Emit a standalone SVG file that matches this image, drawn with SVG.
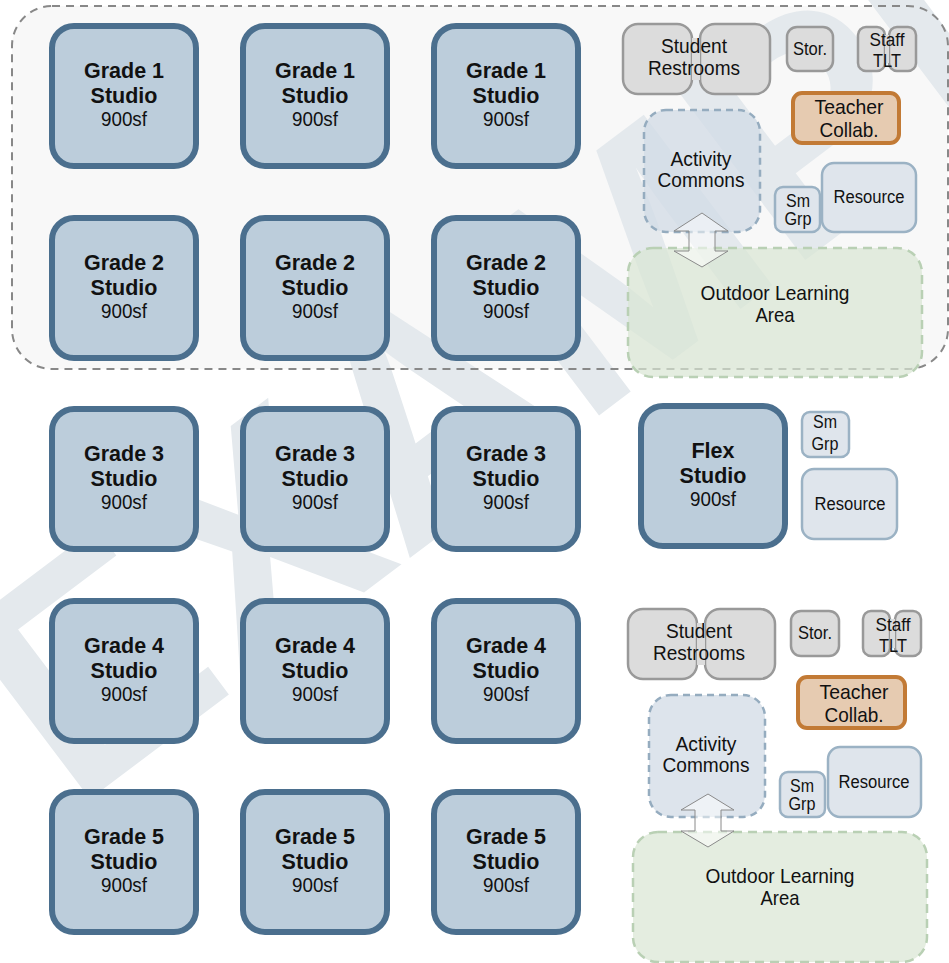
<svg xmlns="http://www.w3.org/2000/svg" width="949" height="963" viewBox="0 0 949 963">
<style>
.bg{fill:#ffffff}
.studio rect{fill:#bccddb;stroke:#4b6f8e;stroke-width:6}
.gray rect.r{fill:#dcdcdc;stroke:#999999;stroke-width:2.5}
.gray rect.f{fill:#dcdcdc;stroke:none}
.teach rect{fill:#e6cbb1;stroke:#c27a35;stroke-width:4}
.blue rect{fill:#dfe5ec;stroke:#9bb2c4;stroke-width:2.5}
.commons rect{fill:#d2dbe6;fill-opacity:0.75;stroke:#95acbf;stroke-width:2.5;stroke-dasharray:7 5}
.outdoor rect{fill:#d9e5d3;fill-opacity:0.7;stroke:#b9d0b4;stroke-width:2.5;stroke-dasharray:9 6}
.arrow{fill:#ffffff;fill-opacity:0.5;stroke:#8a8a8a;stroke-width:1}
text{font-family:"Liberation Sans",Arial,Helvetica,sans-serif;fill:#111111;text-anchor:middle}
.sb{font-size:21.5px;font-weight:bold}
.sr{font-size:21px}
.ss{font-size:17.5px}
.wm{font-size:310px;font-weight:bold;fill:#e4e9ed}
</style>
<rect class="bg" x="0" y="0" width="949" height="963"/>
<rect x="12" y="6" width="936" height="363" rx="40" fill="#f8f8f8"/>
<text class="wm" x="0" y="111" transform="translate(605,272) rotate(-37)">EXAMPLE</text>
<rect x="12" y="6" width="936" height="363" rx="40" fill="none" stroke="#888888" stroke-width="2" stroke-dasharray="8 6"/>

<g id="g1a" class="studio"><rect x="52" y="26" width="144" height="140" rx="22"/><text class="sb" x="124" y="78">Grade 1</text><text class="sb" x="124" y="103">Studio</text><text class="sr" x="124" y="126" textLength="46" lengthAdjust="spacingAndGlyphs">900sf</text></g>
<g id="g1b" class="studio"><rect x="243" y="26" width="144" height="140" rx="22"/><text class="sb" x="315" y="78">Grade 1</text><text class="sb" x="315" y="103">Studio</text><text class="sr" x="315" y="126" textLength="46" lengthAdjust="spacingAndGlyphs">900sf</text></g>
<g id="g1c" class="studio"><rect x="434" y="26" width="144" height="140" rx="22"/><text class="sb" x="506" y="78">Grade 1</text><text class="sb" x="506" y="103">Studio</text><text class="sr" x="506" y="126" textLength="46" lengthAdjust="spacingAndGlyphs">900sf</text></g>

<g id="g2a" class="studio"><rect x="52" y="218" width="144" height="140" rx="22"/><text class="sb" x="124" y="270">Grade 2</text><text class="sb" x="124" y="295">Studio</text><text class="sr" x="124" y="318" textLength="46" lengthAdjust="spacingAndGlyphs">900sf</text></g>
<g id="g2b" class="studio"><rect x="243" y="218" width="144" height="140" rx="22"/><text class="sb" x="315" y="270">Grade 2</text><text class="sb" x="315" y="295">Studio</text><text class="sr" x="315" y="318" textLength="46" lengthAdjust="spacingAndGlyphs">900sf</text></g>
<g id="g2c" class="studio"><rect x="434" y="218" width="144" height="140" rx="22"/><text class="sb" x="506" y="270">Grade 2</text><text class="sb" x="506" y="295">Studio</text><text class="sr" x="506" y="318" textLength="46" lengthAdjust="spacingAndGlyphs">900sf</text></g>

<g id="g3a" class="studio"><rect x="52" y="409" width="144" height="140" rx="22"/><text class="sb" x="124" y="461">Grade 3</text><text class="sb" x="124" y="486">Studio</text><text class="sr" x="124" y="509" textLength="46" lengthAdjust="spacingAndGlyphs">900sf</text></g>
<g id="g3b" class="studio"><rect x="243" y="409" width="144" height="140" rx="22"/><text class="sb" x="315" y="461">Grade 3</text><text class="sb" x="315" y="486">Studio</text><text class="sr" x="315" y="509" textLength="46" lengthAdjust="spacingAndGlyphs">900sf</text></g>
<g id="g3c" class="studio"><rect x="434" y="409" width="144" height="140" rx="22"/><text class="sb" x="506" y="461">Grade 3</text><text class="sb" x="506" y="486">Studio</text><text class="sr" x="506" y="509" textLength="46" lengthAdjust="spacingAndGlyphs">900sf</text></g>

<g id="g4a" class="studio"><rect x="52" y="601" width="144" height="140" rx="22"/><text class="sb" x="124" y="653">Grade 4</text><text class="sb" x="124" y="678">Studio</text><text class="sr" x="124" y="701" textLength="46" lengthAdjust="spacingAndGlyphs">900sf</text></g>
<g id="g4b" class="studio"><rect x="243" y="601" width="144" height="140" rx="22"/><text class="sb" x="315" y="653">Grade 4</text><text class="sb" x="315" y="678">Studio</text><text class="sr" x="315" y="701" textLength="46" lengthAdjust="spacingAndGlyphs">900sf</text></g>
<g id="g4c" class="studio"><rect x="434" y="601" width="144" height="140" rx="22"/><text class="sb" x="506" y="653">Grade 4</text><text class="sb" x="506" y="678">Studio</text><text class="sr" x="506" y="701" textLength="46" lengthAdjust="spacingAndGlyphs">900sf</text></g>

<g id="g5a" class="studio"><rect x="52" y="792" width="144" height="140" rx="22"/><text class="sb" x="124" y="844">Grade 5</text><text class="sb" x="124" y="869">Studio</text><text class="sr" x="124" y="892" textLength="46" lengthAdjust="spacingAndGlyphs">900sf</text></g>
<g id="g5b" class="studio"><rect x="243" y="792" width="144" height="140" rx="22"/><text class="sb" x="315" y="844">Grade 5</text><text class="sb" x="315" y="869">Studio</text><text class="sr" x="315" y="892" textLength="46" lengthAdjust="spacingAndGlyphs">900sf</text></g>
<g id="g5c" class="studio"><rect x="434" y="792" width="144" height="140" rx="22"/><text class="sb" x="506" y="844">Grade 5</text><text class="sb" x="506" y="869">Studio</text><text class="sr" x="506" y="892" textLength="46" lengthAdjust="spacingAndGlyphs">900sf</text></g>

<g id="flex" class="studio"><rect x="641" y="406" width="144" height="140" rx="22"/><text class="sb" x="713" y="458">Flex</text><text class="sb" x="713" y="483">Studio</text><text class="sr" x="713" y="506" textLength="46" lengthAdjust="spacingAndGlyphs">900sf</text></g>

<!-- top cluster -->
<g id="restrooms-top" class="gray"><rect class="r" x="623" y="24" width="69" height="70" rx="15"/><rect class="r" x="700" y="24" width="70" height="70" rx="15"/><rect class="f" x="692" y="38" width="8" height="42"/><text class="sr" x="694" y="53" textLength="66" lengthAdjust="spacingAndGlyphs">Student</text><text class="sr" x="694" y="75" textLength="92" lengthAdjust="spacingAndGlyphs">Restrooms</text></g>
<g id="stor-top" class="gray"><rect class="r" x="787" y="27" width="46" height="44" rx="10"/><text class="ss" x="810" y="55" textLength="34" lengthAdjust="spacingAndGlyphs">Stor.</text></g>
<g id="tlt-top" class="gray"><rect class="r" x="858" y="27" width="27" height="44" rx="8"/><rect class="r" x="889" y="27" width="27" height="44" rx="8"/><rect class="f" x="885" y="35" width="4" height="28"/><text class="ss" x="887" y="46" textLength="35" lengthAdjust="spacingAndGlyphs">Staff</text><text class="ss" x="887" y="67" textLength="28" lengthAdjust="spacingAndGlyphs">TLT</text></g>
<g id="collab-top" class="teach"><rect x="793" y="93" width="106" height="50" rx="9"/><text class="sr" x="849" y="114" textLength="69" lengthAdjust="spacingAndGlyphs">Teacher</text><text class="sr" x="849" y="137" textLength="59" lengthAdjust="spacingAndGlyphs">Collab.</text></g>
<g id="commons-top" class="commons"><rect x="644" y="110" width="116" height="122" rx="22"/><text class="sr" x="701" y="166" textLength="61" lengthAdjust="spacingAndGlyphs">Activity</text><text class="sr" x="701" y="187" textLength="87" lengthAdjust="spacingAndGlyphs">Commons</text></g>
<g id="smgrp-top" class="blue"><rect x="775" y="187" width="45" height="45" rx="8"/><text class="ss" x="798" y="207" textLength="24" lengthAdjust="spacingAndGlyphs">Sm</text><text class="ss" x="798" y="225" textLength="27" lengthAdjust="spacingAndGlyphs">Grp</text></g>
<g id="resource-top" class="blue"><rect x="822" y="163" width="94" height="69" rx="12"/><text class="ss" x="869" y="203" textLength="71" lengthAdjust="spacingAndGlyphs">Resource</text></g>
<g id="outdoor-top" class="outdoor"><rect x="628" y="248" width="294" height="129" rx="25"/><text class="sr" x="775" y="300" textLength="149" lengthAdjust="spacingAndGlyphs">Outdoor Learning</text><text class="sr" x="775" y="322" textLength="39" lengthAdjust="spacingAndGlyphs">Area</text></g>

<!-- flex cluster -->
<g id="smgrp-flex" class="blue"><rect x="802" y="412" width="47" height="45" rx="8"/><text class="ss" x="825" y="428" textLength="24" lengthAdjust="spacingAndGlyphs">Sm</text><text class="ss" x="825" y="450" textLength="27" lengthAdjust="spacingAndGlyphs">Grp</text></g>
<g id="resource-flex" class="blue"><rect x="802" y="469" width="95" height="70" rx="12"/><text class="ss" x="850" y="510" textLength="71" lengthAdjust="spacingAndGlyphs">Resource</text></g>

<!-- bottom cluster -->
<g id="restrooms-bot" class="gray"><rect class="r" x="628" y="609" width="69" height="70" rx="15"/><rect class="r" x="705" y="609" width="70" height="70" rx="15"/><rect class="f" x="697" y="623" width="8" height="42"/><text class="sr" x="699" y="638" textLength="66" lengthAdjust="spacingAndGlyphs">Student</text><text class="sr" x="699" y="660" textLength="92" lengthAdjust="spacingAndGlyphs">Restrooms</text></g>
<g id="stor-bot" class="gray"><rect class="r" x="791" y="611" width="48" height="45" rx="10"/><text class="ss" x="815" y="639" textLength="34" lengthAdjust="spacingAndGlyphs">Stor.</text></g>
<g id="tlt-bot" class="gray"><rect class="r" x="863" y="611" width="27" height="45" rx="8"/><rect class="r" x="895" y="611" width="26" height="45" rx="8"/><rect class="f" x="890" y="619" width="5" height="29"/><text class="ss" x="893" y="631" textLength="35" lengthAdjust="spacingAndGlyphs">Staff</text><text class="ss" x="893" y="652" textLength="28" lengthAdjust="spacingAndGlyphs">TLT</text></g>
<g id="collab-bot" class="teach"><rect x="798" y="677" width="107" height="51" rx="9"/><text class="sr" x="854" y="699" textLength="69" lengthAdjust="spacingAndGlyphs">Teacher</text><text class="sr" x="854" y="722" textLength="59" lengthAdjust="spacingAndGlyphs">Collab.</text></g>
<g id="commons-bot" class="commons"><rect x="649" y="695" width="116" height="122" rx="22"/><text class="sr" x="706" y="751" textLength="61" lengthAdjust="spacingAndGlyphs">Activity</text><text class="sr" x="706" y="772" textLength="87" lengthAdjust="spacingAndGlyphs">Commons</text></g>
<g id="smgrp-bot" class="blue"><rect x="780" y="772" width="45" height="45" rx="8"/><text class="ss" x="802" y="792" textLength="24" lengthAdjust="spacingAndGlyphs">Sm</text><text class="ss" x="802" y="810" textLength="27" lengthAdjust="spacingAndGlyphs">Grp</text></g>
<g id="resource-bot" class="blue"><rect x="828" y="747" width="93" height="70" rx="12"/><text class="ss" x="874" y="788" textLength="71" lengthAdjust="spacingAndGlyphs">Resource</text></g>
<g id="outdoor-bot" class="outdoor"><rect x="633" y="832" width="294" height="130" rx="25"/><text class="sr" x="780" y="883" textLength="149" lengthAdjust="spacingAndGlyphs">Outdoor Learning</text><text class="sr" x="780" y="905" textLength="39" lengthAdjust="spacingAndGlyphs">Area</text></g>

<g id="connectors">
<path class="arrow" d="M702,213 L728,231 L715,231 L715,251 L728,251 L702,267 L674,251 L689,251 L689,231 L674,231 Z"/>
<path class="arrow" d="M708,794 L734,810 L721,810 L721,831 L734,831 L708,847 L681,831 L695,831 L695,810 L681,810 Z"/>
</g>
</svg>
